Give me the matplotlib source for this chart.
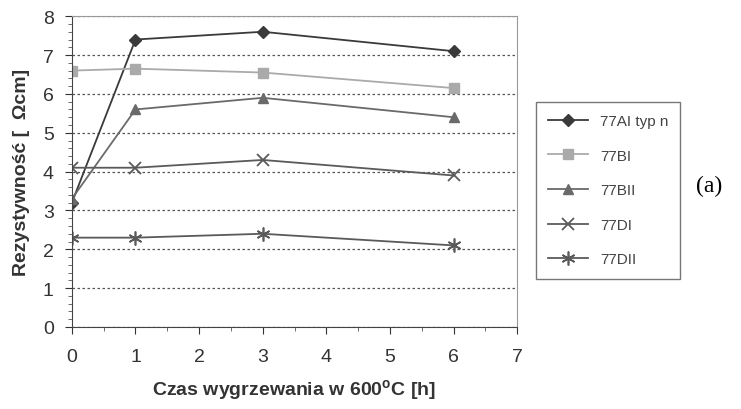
import matplotlib.pyplot as plt
from matplotlib.ticker import MultipleLocator

plt.rcParams['font.family'] = ['Liberation Sans', 'DejaVu Sans']
plt.rcParams['mathtext.fontset'] = 'custom'
plt.rcParams['mathtext.rm'] = 'Liberation Sans:bold'

hours = [0, 1, 3, 6]
s_77ai = [3.2, 7.4, 7.6, 7.1]
s_77bi = [6.6, 6.65, 6.55, 6.15]
s_77bii = [3.3, 5.6, 5.9, 5.4]
s_77di = [4.1, 4.1, 4.3, 3.9]
s_77dii = [2.3, 2.3, 2.4, 2.1]
labels = ['77AI typ n', '77BI', '77BII', '77DI', '77DII']

fig = plt.figure(figsize=(7.41, 4.10), dpi=100)
ax = fig.add_axes([0.097, 0.2, 0.601, 0.758])

ax.plot(hours, s_77ai, color='#3a3a3a', marker='D', ms=6.5, lw=1.3, label=labels[0])
ax.plot(hours, s_77bi, color='#aaaaaa', marker='s', ms=6.5, lw=1.3, label=labels[1])
ax.plot(hours, s_77bii, color='#6a6a6a', marker='^', ms=7.5, lw=1.3, label=labels[2])
ax.plot(hours, s_77di, color='#5a5a5a', marker='x', ms=9, mew=1.3, lw=1.3, label=labels[3])
ax.plot(hours, s_77dii, color='#5a5a5a', marker=(6, 2, 0), ms=10, mew=1.2, lw=1.3, label=labels[4])

ax.set_xlim(0, 7)
ax.set_ylim(0, 8)
ax.xaxis.set_major_locator(MultipleLocator(1))
ax.xaxis.set_minor_locator(MultipleLocator(0.5))
ax.yaxis.set_major_locator(MultipleLocator(1))
ax.yaxis.set_minor_locator(MultipleLocator(0.2))
ax.grid(axis='y', which='major', linestyle=(0, (2, 2)), color='#555555', lw=0.9)
ax.tick_params(which='major', direction='out', length=5, labelsize=14, colors='#333333')
ax.tick_params(axis='x', which='major', pad=10)
ax.tick_params(axis='y', which='major', pad=8)
ax.tick_params(which='minor', direction='out', length=3, colors='#555555')
for side in ['top', 'right']:
    ax.spines[side].set_color('#999999')
for side in ['left', 'bottom']:
    ax.spines[side].set_color('#444444')

ax.set_xlabel('Czas wygrzewania w 600$^{\\mathrm{o}}$C [h]', fontsize=14, fontweight='bold',
              color='#333333', labelpad=9)
ax.set_ylabel('Rezystywność [  Ωcm]', fontsize=14, fontweight='bold', color='#333333', labelpad=9)

leg = fig.legend(loc='upper left', bbox_to_anchor=(0.7125, 0.768), fontsize=11,
                 frameon=True, fancybox=False, edgecolor='#555555', borderpad=0.8,
                 labelspacing=1.35, handlelength=2.6, labelcolor='#444444')
leg.get_frame().set_linewidth(1.0)

fig.text(0.975, 0.545, '(a)', fontsize=17, family='Liberation Serif', ha='right', va='center')

plt.savefig('out.png', dpi=100)
